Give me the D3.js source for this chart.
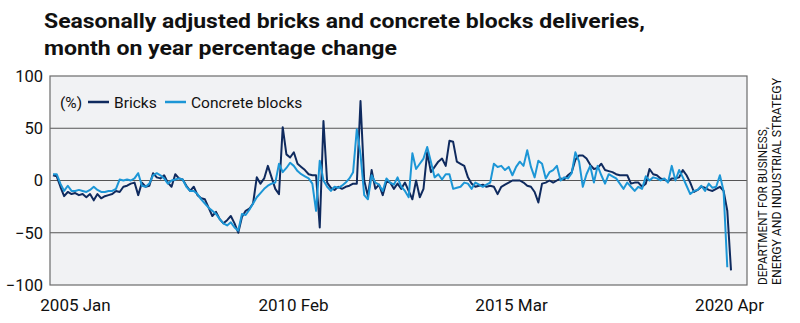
<!DOCTYPE html>
<html><head><meta charset="utf-8">
<script src="https://cdn.jsdelivr.net/npm/d3@7"></script>
<style>
html,body{margin:0;padding:0;background:#fff;}
svg{display:block;font-family:Roboto,"Noto Sans",sans-serif;}
</style></head>
<body><svg id="c" width="800" height="323"></svg>
<script>
const title = ["Seasonally adjusted bricks and concrete blocks deliveries,", "month on year percentage change"];
const seriesNames = ["Bricks", "Concrete blocks"];
const yTicks = [100, 50, 0, -50, -100];
const xLabels = ["2005 Jan", "2010 Feb", "2015 Mar", "2020 Apr"];
const source = ["DEPARTMENT FOR BUSINESS,", "ENERGY AND INDUSTRIAL STRATEGY"];
// monthly values, Jan 2005 onwards
const bricks = [
 5,4,-6,-15,-11,-13,-12,-14,-13,-16,
 -13,-19,-13,-17,-15,-14,-13,-10,-11,-6,
 -5,-3,-2,-14,-2,-6,-5,7,3,2,
 5,-2,-6,6,2,1,-5,-10,-6,-14,
 -17,-18,-26,-34,-30,-37,-41,-38,-34,-41,
 -50,-35,-29,-27,-22,3,-3,2,14,3,
 -8,-13,51,25,22,27,16,13,10,6,
 5,5,-45,57,-2,-7,-9,-6,-8,-6,
 -5,-3,-3,76,0,-15,10,-8,-4,-14,
 -1,-2,-8,-3,-8,-2,-10,-18,0,-16,
 -8,27,8,13,18,21,14,38,37,18,
 16,14,3,-3,-6,-5,-4,-6,-5,-6,
 -13,-6,-4,-2,0,0,0,-2,-5,-6,
 -11,-21,-3,-2,0,-2,0,2,1,5,
 8,20,24,24,21,15,11,12,16,10,
 9,8,6,5,5,5,-3,-2,-2,-6,
 -3,11,6,5,2,1,-1,2,2,3,
 10,5,-2,-11,-9,-6,-7,-9,-10,-8,
 -6,-10,-29,-86];
const blocks = [
 6,6,-3,-10,-5,-10,-10,-9,-10,-11,
 -9,-6,-9,-11,-11,-10,-10,-8,1,0,
 1,0,2,7,-5,-6,-3,5,7,5,
 2,-3,0,1,2,1,-6,-10,-10,-13,
 -18,-22,-26,-29,-32,-37,-41,-43,-40,-45,
 -48,-32,-33,-28,-22,-16,-12,-8,-5,-3,
 -2,16,8,12,17,14,9,6,4,2,
 -3,-29,19,0,-6,-10,-6,-7,-5,-2,
 2,8,49,25,-14,-18,5,-2,-4,-10,
 2,-2,-4,3,-6,-10,-16,26,11,16,
 21,32,18,3,6,1,6,6,-8,-7,
 -6,-2,-3,-8,-2,-4,-6,-4,-2,16,
 13,14,10,13,5,13,18,14,29,13,
 3,19,16,2,8,10,14,0,3,2,
 7,27,18,-6,6,14,-2,14,5,-3,
 6,4,2,-3,-8,-2,-6,-10,-6,-8,
 4,0,3,2,0,2,-2,14,0,10,
 3,-5,-13,-10,-9,-5,-10,-3,-7,-6,
 5,-10,-83];
const colors = ["#0f2a5e", "#1c96d6"];

const svg = d3.select("#c");
const P = {l:50, r:747, t:76, b:285};
const x = d3.scaleLinear().domain([0, bricks.length-1]).range([53, 731]);
const y = d3.scaleLinear().domain([-100, 100]).range([P.b, P.t]);
const xl = d3.scalePoint().domain(xLabels).range([75, 729]);

// title
svg.selectAll("text.title").data(title).join("text")
  .attr("class","title")
  .attr("x", 44).attr("y", (d,i)=>28+i*27)
  .attr("font-size", 21).attr("font-weight", 700).attr("fill", "#111")
  .attr("textLength", (d,i)=> i===0 ? 601 : 353)
  .attr("lengthAdjust", "spacingAndGlyphs")
  .text(d=>d);

// plot background
svg.append("rect").attr("x", P.l).attr("y", P.t).attr("width", P.r-P.l).attr("height", P.b-P.t)
  .attr("fill", "#f1f2f4");

// gridlines
svg.selectAll("line.grid").data(yTicks.filter(v=>v!==100 && v!==-100)).join("line")
  .attr("x1", P.l).attr("x2", P.r).attr("y1", d=>y(d)).attr("y2", d=>y(d))
  .attr("stroke", "#555").attr("stroke-width", 1);

// border
svg.append("rect").attr("x", P.l).attr("y", P.t).attr("width", P.r-P.l).attr("height", P.b-P.t)
  .attr("fill", "none").attr("stroke", "#6b6b6b").attr("stroke-width", 1.2);

// y axis labels
const yAxis = d3.axisLeft(y).tickValues(yTicks).tickSize(0).tickPadding(7);
const ga = svg.append("g").attr("transform", `translate(${P.l},0)`).call(yAxis);
ga.select(".domain").remove();
ga.selectAll("text").attr("font-size", 16.5).attr("fill", "#111").attr("font-family", "Roboto, sans-serif");

// x labels
const xAxis = d3.axisBottom(xl).tickSize(0).tickPadding(0);
const gx = svg.append("g").attr("transform", `translate(0,${P.b+10})`).call(xAxis);
gx.select(".domain").remove();
gx.selectAll("text").attr("font-size", 17).attr("fill", "#111").attr("font-family", "Roboto, sans-serif").attr("dy", "0.95em");

// lines
const line = d3.line().x((d,i)=>x(i)).y(d=>y(d)).curve(d3.curveLinear);
[bricks, blocks].forEach((s, k) => {
  svg.append("path").datum(s).attr("d", line)
    .attr("fill", "none").attr("stroke", colors[k]).attr("stroke-width", 2)
    .attr("stroke-linejoin", "round");
});

// legend
const lg = svg.append("g").attr("font-size", 15.5).attr("fill", "#111");
lg.append("text").attr("x", 60).attr("y", 108).text("(%)");
const legX = [88, 165];
seriesNames.forEach((n, i) => {
  lg.append("line").attr("x1", legX[i]).attr("x2", legX[i]+21).attr("y1", 102).attr("y2", 102)
    .attr("stroke", colors[i]).attr("stroke-width", 2.5);
  lg.append("text").attr("x", legX[i]+26).attr("y", 108).text(n);
});

// source vertical
svg.selectAll("text.src").data(source).join("text")
  .attr("class", "src")
  .attr("transform", (d,i)=>`translate(${767+i*14},285) rotate(-90)`)
  .attr("font-size", 12).attr("fill", "#111")
  .attr("textLength", (d,i)=> i===0 ? 158 : 207)
  .attr("lengthAdjust", "spacingAndGlyphs")
  .text(d=>d);
</script></body></html>
